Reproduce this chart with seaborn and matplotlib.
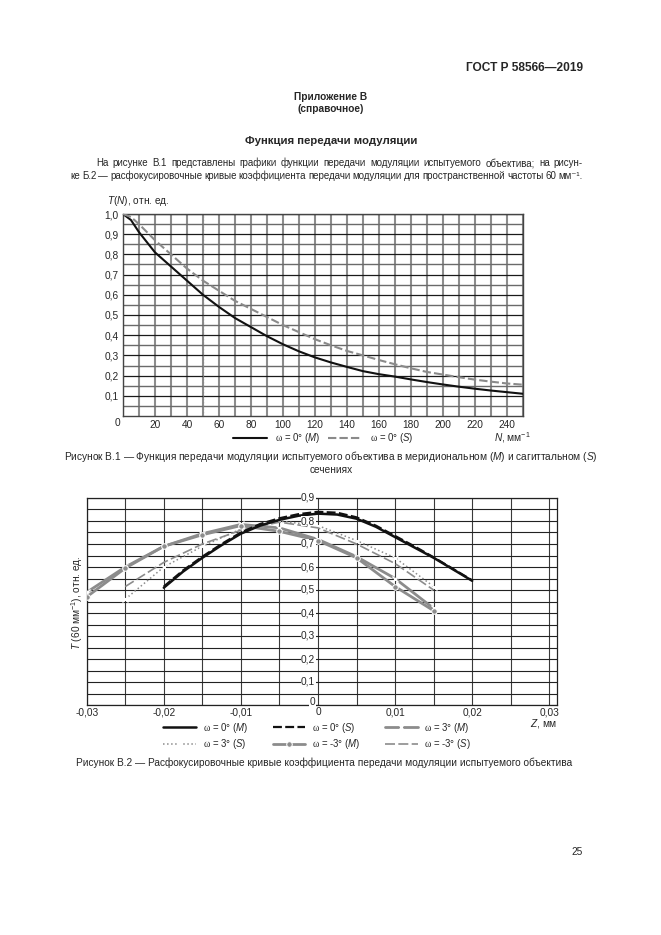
import matplotlib
matplotlib.use('Agg')
import matplotlib.pyplot as plt
import seaborn as sns
import numpy as np

# --- данные рисунка В.1 ---
N = [0, 5, 10, 20, 30, 40, 50, 60, 70, 80, 90, 100, 110, 120, 130, 140, 150,
     160, 170, 180, 190, 200, 210, 220, 230, 240, 250]
T_M = [1.0, 0.97, 0.91, 0.81, 0.74, 0.67, 0.60, 0.54, 0.485, 0.44, 0.395, 0.355,
       0.32, 0.29, 0.265, 0.243, 0.222, 0.207, 0.195, 0.181, 0.168, 0.156, 0.145,
       0.135, 0.126, 0.118, 0.11]
T_S = [1.0, 0.985, 0.95, 0.87, 0.80, 0.73, 0.67, 0.62, 0.57, 0.53, 0.49, 0.45,
       0.415, 0.38, 0.35, 0.322, 0.30, 0.277, 0.256, 0.236, 0.218, 0.205, 0.192,
       0.18, 0.17, 0.161, 0.155]

# --- данные рисунка В.2 ---
Z0 = [-0.02, -0.0175, -0.015, -0.0125, -0.01, -0.0075, -0.005, -0.0025, 0,
      0.0025, 0.005, 0.0075, 0.01, 0.0125, 0.015, 0.0175, 0.02]
T0_M = [0.51, 0.58, 0.64, 0.695, 0.745, 0.78, 0.805, 0.823, 0.832, 0.828, 0.81,
        0.775, 0.73, 0.685, 0.64, 0.59, 0.54]
T0_S = [0.515, 0.585, 0.645, 0.70, 0.75, 0.787, 0.812, 0.83, 0.84, 0.836, 0.816,
        0.78, 0.735, 0.69, 0.642, 0.592, 0.542]
Z3 = [-0.03, -0.025, -0.02, -0.015, -0.01, -0.005, 0, 0.005, 0.01, 0.015]
T3_M = [0.49, 0.60, 0.69, 0.745, 0.785, 0.77, 0.72, 0.645, 0.55, 0.42]
Tm3_M = [0.47, 0.595, 0.69, 0.74, 0.78, 0.755, 0.715, 0.64, 0.515, 0.41]
Z3s = [-0.025, -0.02, -0.015, -0.01, -0.005, 0, 0.005, 0.01, 0.015]
T3_S = [0.46, 0.60, 0.69, 0.765, 0.80, 0.78, 0.715, 0.64, 0.515]
Tm3_S = [0.515, 0.62, 0.70, 0.76, 0.795, 0.77, 0.70, 0.615, 0.50]

sns.set_style('white')
plt.rcParams['font.family'] = ['Liberation Sans', 'DejaVu Sans']
plt.rcParams['mathtext.fontset'] = 'custom'
plt.rcParams['mathtext.rm'] = 'Liberation Sans'
plt.rcParams['mathtext.it'] = 'Liberation Sans:italic'
plt.rcParams['mathtext.bf'] = 'Liberation Sans:bold'
plt.rcParams['mathtext.sf'] = 'Liberation Serif'

W, H = 661, 935
fig = plt.figure(figsize=(W / 100, H / 100), dpi=100)
fs = 7.3
fb = 7.05  # основной текст
OM = '$\\mathsf{\\omega}$'


def txt(x, y, s, **kw):
    kw.setdefault('fontsize', fs)
    kw.setdefault('va', 'center')
    return fig.text(x / W, 1 - y / H, s, **kw)


def justify(line, x0, x1, y, size):
    # строка по ширине: слова раздвигаются до правого края
    r = fig.canvas.get_renderer()
    words = line.split(' ')
    ws = []
    for w in words:
        t = txt(0, 0, w, fontsize=size)
        ws.append(t.get_window_extent(r).width)
        t.remove()
    gap = max((x1 - x0 - sum(ws)) / (len(words) - 1), 1.2)
    x = x0
    for w, wd in zip(words, ws):
        txt(x, y + 3, w, ha='left', va='baseline', fontsize=size)
        x += wd + gap


def rect(l, t, r, b):
    return [l / W, 1 - b / H, (r - l) / W, (b - t) / H]


# шапка страницы
txt(583, 68, 'ГОСТ Р 58566—2019', ha='right', fontsize=8.6, fontweight='bold')
txt(331, 97, 'Приложение В', ha='center', fontweight='bold')
txt(331, 109, '(справочное)', ha='center', fontweight='bold')
txt(331, 141, 'Функция передачи модуляции', ha='center', fontsize=8.2, fontweight='bold')
justify('На рисунке В.1 представлены графики функции передачи модуляции '
        'испытуемого объектива; на рисун-', 96, 583, 163, fb)
justify('ке Б.2 — расфокусировочные кривые коэффициента передачи модуляции '
        'для пространственной частоты 60 мм⁻¹.', 70, 583, 176, fb)

# ---------------- рисунок В.1 ----------------
ax1 = fig.add_axes(rect(123, 214, 523, 416))
sns.lineplot(x=N, y=T_M, ax=ax1, color='#111111', lw=1.5, zorder=5)
sns.lineplot(x=N, y=T_S, ax=ax1, color='#8a8a8a', lw=1.5, ls=(0, (4, 1.5)), zorder=5)
ax1.axvline(50, color='#8a8a8a', lw=0.9, ls=':', zorder=3)
ax1.set_xlim(0, 250)
ax1.set_ylim(0, 1.0)
ax1.set_xticks(np.arange(20, 250, 20))
ax1.set_xticks(np.arange(0, 251, 10), minor=True)
ax1.set_yticks(np.arange(0.1, 1.01, 0.1))
ax1.set_yticks(np.arange(0.05, 1.0, 0.1), minor=True)
ax1.set_xticklabels([str(v) for v in range(20, 250, 20)])
ax1.set_yticklabels([f'{v:.1f}'.replace('.', ',') for v in np.arange(0.1, 1.01, 0.1)])
ax1.tick_params(which='both', length=0, labelsize=fs, pad=3)
ax1.grid(which='both', axis='x', color='#8c8c8c', lw=1.5)
ax1.grid(which='major', axis='y', color='#1a1a1a', lw=0.9)
ax1.grid(which='minor', axis='y', color='#6a6a6a', lw=1.0)
ax1.set_axisbelow(True)
for sp in ax1.spines.values():
    sp.set_color('#444444')
    sp.set_linewidth(1.0)
ax1.set_xlabel('')
ax1.set_ylabel('')
txt(117, 423, '0', ha='center', fontsize=fs)
txt(107, 201, '$T$($N$), отн. ед.', ha='left', fontsize=fs)
txt(531, 438, '$N$, мм$^{-1}$', ha='right', fontsize=fs)

h1 = ax1.get_lines()
ax1.legend([h1[0], h1[1]], [OM + ' = 0° ($M$)', OM + ' = 0° ($S$)'],
           loc='center', bbox_to_anchor=(0.5, -0.109), ncol=2, frameon=False,
           fontsize=6.9, handlelength=3.6, columnspacing=0.8, handletextpad=0.8)

txt(331, 457, 'Рисунок В.1 — Функция передачи модуляции испытуемого объектива в '
    'меридиональном ($M$) и сагиттальном ($S$)', ha='center')
txt(331, 470, 'сечениях', ha='center')

# ---------------- рисунок В.2 ----------------
ax2 = fig.add_axes(rect(86.7, 498, 557, 705))
l0m = sns.lineplot(x=Z0, y=T0_M, ax=ax2, color='#111111', lw=1.8, zorder=6).get_lines()[-1]
l0s = sns.lineplot(x=Z0, y=T0_S, ax=ax2, color='#111111', lw=1.6,
                   ls=(0, (4, 1.5)), zorder=6).get_lines()[-1]
l3m = sns.lineplot(x=Z3, y=T3_M, ax=ax2, color='#8c8c8c', lw=2.0, marker='x',
                   markersize=5, mew=1.0, zorder=5).get_lines()[-1]
l3s = sns.lineplot(x=Z3s, y=T3_S, ax=ax2, color='#8c8c8c', lw=1.1, ls=':',
                   marker='x', markersize=5, mew=1.0, zorder=5).get_lines()[-1]
lm3m = sns.lineplot(x=Z3, y=Tm3_M, ax=ax2, color='#8c8c8c', lw=2.0, marker='o',
                    markersize=4, zorder=5).get_lines()[-1]
lm3s = sns.lineplot(x=Z3s, y=Tm3_S, ax=ax2, color='#8c8c8c', lw=1.2,
                    ls=(0, (6, 2)), zorder=5).get_lines()[-1]
ax2.set_xlim(-0.03, 0.031)
ax2.set_ylim(0, 0.9)
zt = [-0.03, -0.02, -0.01, 0, 0.01, 0.02, 0.03]
ax2.set_xticks(zt)
ax2.set_xticklabels(['-0,03', '-0,02', '-0,01', '0', '0,01', '0,02', '0,03'])
ax2.set_xticks(np.arange(-0.03, 0.0301, 0.005), minor=True)
ax2.set_yticks(np.arange(0, 0.91, 0.1))
ax2.set_yticks(np.arange(0.05, 0.9, 0.1), minor=True)
ax2.set_yticklabels([])
ax2.tick_params(which='both', length=0, labelsize=fs, pad=1.5)
ax2.grid(which='both', axis='x', color='#3a3a3a', lw=0.8)
ax2.grid(which='both', axis='y', color='#222222', lw=0.8)
ax2.set_axisbelow(True)
for sp in ax2.spines.values():
    sp.set_color('#222222')
    sp.set_linewidth(0.9)
ax2.set_xlabel('')
ax2.set_ylabel('')
for v in np.arange(0, 0.91, 0.1):
    lab = '0' if v == 0 else f'{v:.1f}'.replace('.', ',')
    ax2.annotate(lab, (0, v), xytext=(-2, 2 if v == 0 else 0), textcoords='offset points',
                 ha='right', va='center', fontsize=fs, zorder=7,
                 bbox=dict(fc='white', ec='none', pad=0.3))
txt(77, 603, '$T$ (60 мм$^{-1}$), отн. ед.', ha='center', rotation=90, fontsize=fs)
txt(557, 723, '$Z$, мм', ha='right', fontsize=fs)

handles = [l0m, l3s, l0s, lm3m, l3m, lm3s]
labels = [OM + ' = 0° ($M$)', OM + ' = 3° ($S$)', OM + ' = 0° ($S$)',
          OM + ' = -3° ($M$)', OM + ' = 3° ($M$)', OM + ' = -3° ($S$)']
ax2.legend(handles, labels, loc='center', bbox_to_anchor=(0.49, -0.15), ncol=3,
           frameon=False, fontsize=6.9, handlelength=3.4, columnspacing=2.6,
           handletextpad=0.7, labelspacing=0.3)

txt(76, 763, 'Рисунок В.2 — Расфокусировочные кривые коэффициента передачи модуляции '
    'испытуемого объектива', ha='left')
txt(583, 852, '25', ha='right')

fig.savefig('out.png', dpi=100, facecolor='white')
